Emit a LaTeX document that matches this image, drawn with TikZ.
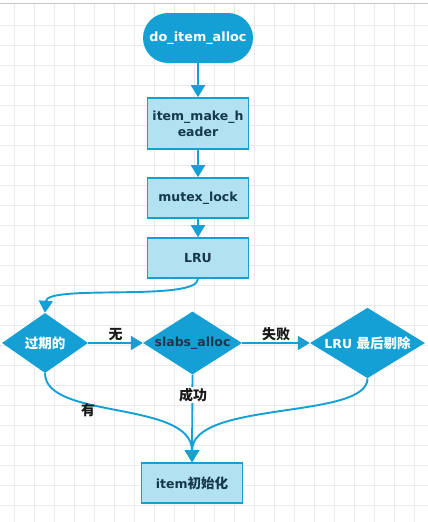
\documentclass[tikz,border=0pt]{standalone}
\usepackage{fontspec}
\setmainfont{DejaVu Sans}
\newfontfamily\cjk{Noto Sans CJK SC}
\usetikzlibrary{shapes.geometric,arrows.meta}
\definecolor{dblue}{RGB}{20,160,212}
\definecolor{lblue}{RGB}{178,226,242}
\definecolor{dtext}{RGB}{22,56,76}
\definecolor{ltext}{RGB}{25,25,25}
\definecolor{gridc}{RGB}{234,234,238}
\tikzset{
  proc/.style={draw=dblue, line width=1.6pt, fill=lblue, minimum width=101pt, minimum height=40pt, inner sep=2pt, text=dtext, font=\fontsize{12.5}{16}\selectfont\bfseries, align=center},
  term/.style={draw=none, fill=dblue, rounded corners=25pt, minimum width=110pt, minimum height=50pt, text=white, font=\fontsize{12.8}{15}\selectfont\bfseries},
  dec/.style={diamond, draw=none, fill=dblue, aspect=1.5, inner sep=0pt, text=white, font=\fontsize{12.5}{15}\selectfont\bfseries},
  conn/.style={draw=dblue, line width=1.9pt, -{Triangle[width=14pt,length=12pt]}},
  lbl/.style={text=ltext, font=\cjk\fontsize{14}{16}\selectfont\bfseries, inner sep=1pt}
}
\begin{document}
\begin{tikzpicture}[x=1pt,y=-1pt]
\useasboundingbox (0,0) rectangle (428,522);
\fill[white] (0,0) rectangle (428,522);
\foreach \x in {14,34,...,428} \draw[gridc, line width=0.6pt] (\x,3) -- (\x,522);
\foreach \y in {25,45,...,522} \draw[gridc, line width=0.6pt] (0,\y) -- (428,\y);
\draw[gray!45, line width=1pt] (0,3) -- (428,3);

\node[term] (start) at (198,38) {do\_item\_alloc};
\node[proc, minimum height=51pt] (hdr) at (198,123.5) {item\_make\_h\\eader};
\node[proc] (mutex) at (198,198) {mutex\_lock};
\node[proc] (lru) at (198,258) {LRU};
\node[dec, minimum width=86pt, minimum height=60pt] (exp) at (45,343) {\cjk\fontsize{13.5}{15}\selectfont\bfseries 过期的};
\node[dec, minimum width=99pt, minimum height=60pt] (slab) at (192.5,343) {\textcolor{dtext}{slabs\_alloc}};
\node[dec, minimum width=115pt, minimum height=60pt] (evict) at (367.5,343) {LRU {\cjk\fontsize{13.5}{15}\selectfont 最后剔除}};
\node[proc] (init) at (192,483) {item{\cjk\fontsize{13.5}{15}\selectfont 初始化}};

\draw[conn] (start.south) -- (hdr.north);
\draw[conn] (hdr.south) -- (mutex.north);
\draw[conn] (mutex.south) -- (lru.north);
\draw[conn] (lru.south) .. controls (198,302) and (47,284) .. (exp.north);
\draw[conn] (exp.east) -- node[lbl, above] {无} (slab.west);
\draw[conn] (slab.east) -- node[lbl, above] {失败} (evict.west);
\draw[conn] (slab.south) -- (init.north);
\draw[conn] (exp.south) .. controls (45,420) and (192,400) .. (init.north);
\draw[conn] (evict.south) .. controls (367.5,420) and (192,400) .. (init.north);
\node[lbl, fill=white] (ok) at (193,395) {成功};
\node[lbl] (yes) at (88,410) {有};
\end{tikzpicture}
\end{document}
